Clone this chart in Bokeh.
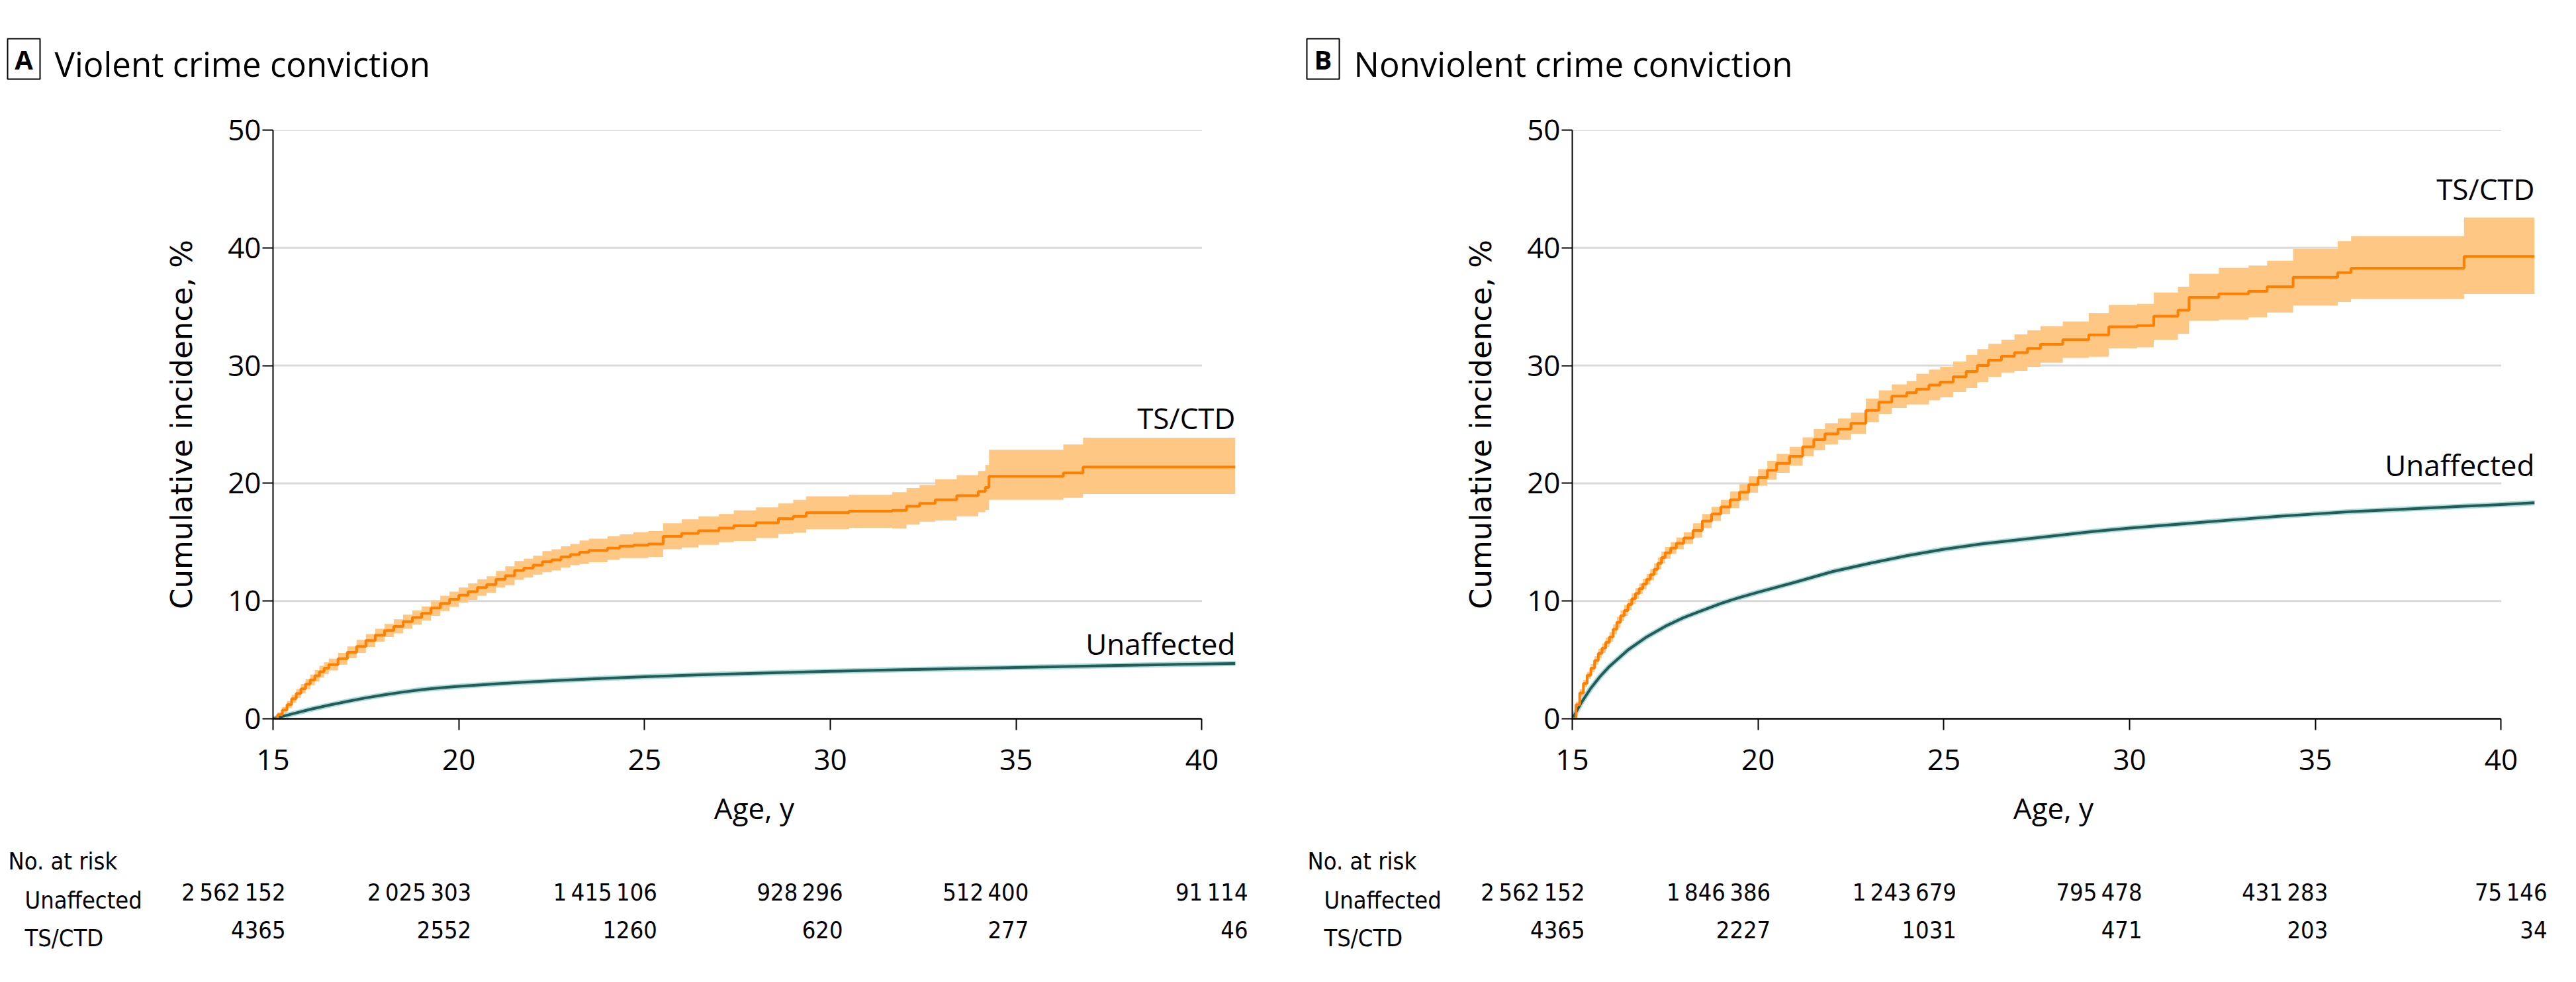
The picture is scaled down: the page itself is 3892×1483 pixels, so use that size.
from bokeh.plotting import figure
from bokeh.models import Range1d, FixedTicker, Label, LabelSet, ColumnDataSource
from bokeh.layouts import row, column
from bokeh.embed import file_html
from bokeh.resources import INLINE
from bokeh.core.properties import value

# ---------------- data ----------------
age_ticks = [15, 20, 25, 30, 35, 40]
pct_ticks = [0, 10, 20, 30, 40, 50]

# Panel A: violent crime, TS/CTD (step estimate with 95% CI)
ageA = [15.0, 15.125, 15.25, 15.375, 15.5, 15.625, 15.75, 15.875, 16.0, 16.125, 16.25, 16.375, 16.5, 16.75, 17.0,
        17.25, 17.5, 17.75, 18.0, 18.25, 18.5, 18.75, 19.0, 19.25, 19.5, 19.75, 20.0, 20.25, 20.5, 20.75,
        21.0, 21.25, 21.5, 21.75, 22.0, 22.25, 22.5, 22.75, 23.0, 23.25, 23.5, 24.0, 24.33, 24.7, 25.1,
        25.5, 26.0, 26.45, 27.0, 27.4, 28.0, 28.6, 29.0, 29.35, 30.5, 31.66, 32.05, 32.4, 32.82, 33.4,
        33.98, 34.17, 34.27, 36.27, 36.8, 40.9]
estA = [0.0, 0.35, 0.75, 1.2, 1.7, 2.15, 2.55, 2.95, 3.3, 3.65, 4.0, 4.3, 4.6, 5.1, 5.65,
        6.15, 6.65, 7.1, 7.5, 7.85, 8.25, 8.6, 8.95, 9.4, 9.8, 10.15, 10.5, 10.8, 11.15, 11.4,
        11.85, 12.15, 12.6, 12.8, 13.05, 13.35, 13.5, 13.75, 13.95, 14.15, 14.3, 14.5, 14.66, 14.75, 14.85,
        15.5, 15.75, 15.98, 16.2, 16.4, 16.65, 17.0, 17.2, 17.5, 17.63, 17.7, 18.05, 18.3, 18.6, 18.95,
        19.3, 19.65, 20.6, 20.88, 21.39, 21.39]
loA = [0.0, 0.15, 0.5, 0.9, 1.35, 1.77, 2.15, 2.52, 2.85, 3.17, 3.5, 3.8, 4.1, 4.6, 5.15,
       5.6, 6.1, 6.55, 6.95, 7.25, 7.65, 8.0, 8.35, 8.75, 9.15, 9.5, 9.85, 10.1, 10.45, 10.7,
       11.15, 11.35, 11.8, 12.0, 12.25, 12.45, 12.6, 12.85, 13.05, 13.15, 13.3, 13.5, 13.66, 13.65, 13.75,
       14.4, 14.55, 14.78, 15.0, 15.1, 15.35, 15.7, 15.8, 16.1, 16.23, 16.15, 16.5, 16.75, 16.85, 17.2,
       17.55, 17.75, 18.6, 18.77, 19.1, 19.1]
hiA = [0.0, 0.55, 1.0, 1.5, 2.05, 2.53, 2.95, 3.38, 3.75, 4.13, 4.5, 4.8, 5.1, 5.6, 6.15,
       6.7, 7.2, 7.65, 8.05, 8.45, 8.85, 9.2, 9.55, 10.05, 10.45, 10.8, 11.15, 11.5, 11.85, 12.1,
       12.55, 12.95, 13.4, 13.6, 13.85, 14.25, 14.4, 14.65, 14.85, 15.15, 15.3, 15.5, 15.66, 15.85, 15.95,
       16.6, 16.95, 17.18, 17.4, 17.7, 17.95, 18.3, 18.6, 18.9, 19.03, 19.25, 19.6, 19.85, 20.35, 20.7,
       21.05, 21.55, 22.85, 23.3, 23.88, 23.88]

# Panel A: unaffected
ageUA = [15, 15.5, 16, 16.5, 17, 17.5, 18, 18.5, 19, 19.5, 20, 21, 22, 23, 24, 25, 26, 27, 28, 29, 30,
         31, 32, 33, 34, 35, 36, 37, 38, 39, 40, 40.9]
estUA = [0, 0.4, 0.8, 1.15, 1.48, 1.78, 2.04, 2.27, 2.47, 2.63, 2.75, 2.97, 3.15, 3.3, 3.45, 3.57, 3.68,
         3.78, 3.87, 3.95, 4.03, 4.1, 4.17, 4.23, 4.3, 4.36, 4.42, 4.48, 4.54, 4.6, 4.66, 4.7]

# Panel B: nonviolent crime, TS/CTD
ageB = [15.0, 15.1, 15.2, 15.3, 15.4, 15.5, 15.6, 15.7, 15.8, 15.9, 16.0, 16.1, 16.2, 16.3, 16.4,
        16.5, 16.6, 16.7, 16.8, 16.9, 17.0, 17.1, 17.2, 17.3, 17.4, 17.5, 17.65, 17.8, 18.0,
        18.25, 18.5, 18.75, 19.0, 19.25, 19.5, 19.75, 20.0, 20.25, 20.5, 20.85, 21.2, 21.5, 21.8, 22.15,
        22.5, 22.9, 23.25, 23.6, 24.0, 24.26, 24.6, 24.9, 25.25, 25.6, 25.9, 26.2, 26.55, 26.9, 27.25,
        27.6, 28.2, 28.9, 29.44, 30.2, 30.65, 31.3, 31.6, 32.4, 33.2, 33.7, 34.4, 35.6, 35.96, 39.0, 40.9]
estB = [0.0, 1.2, 2.2, 3.0, 3.7, 4.3, 4.95, 5.55, 6.0, 6.5, 6.95, 7.6, 8.2, 8.75, 9.2,
        9.7, 10.2, 10.65, 11.05, 11.45, 11.85, 12.25, 12.7, 13.2, 13.7, 14.1, 14.5, 14.9, 15.35,
        16.0, 16.8, 17.4, 18.0, 18.6, 19.25, 19.9, 20.5, 21.1, 21.7, 22.3, 23.1, 23.7, 24.2, 24.6,
        25.1, 26.2, 26.9, 27.4, 27.7, 28.0, 28.35, 28.6, 29.05, 29.5, 30.0, 30.45, 30.8, 31.1, 31.45,
        31.8, 32.2, 32.6, 33.3, 33.4, 34.2, 34.7, 35.8, 36.1, 36.3, 36.7, 37.5, 37.9, 38.28, 39.27, 39.27]
loB = [0.0, 0.95, 1.9, 2.7, 3.4, 3.95, 4.6, 5.17, 5.6, 6.1, 6.55, 7.18, 7.75, 8.3, 8.75,
       9.25, 9.75, 10.2, 10.6, 11.0, 11.4, 11.77, 12.2, 12.7, 13.2, 13.6, 14.0, 14.4, 14.85,
       15.4, 16.2, 16.8, 17.4, 17.9, 18.55, 19.2, 19.8, 20.3, 20.9, 21.5, 22.3, 22.8, 23.3, 23.7,
       24.2, 25.2, 25.9, 26.4, 26.7, 26.7, 27.05, 27.3, 27.75, 28.1, 28.6, 29.05, 29.4, 29.55, 29.9,
       30.25, 30.65, 30.75, 31.45, 31.55, 32.2, 32.7, 33.8, 33.9, 34.1, 34.5, 35.1, 35.4, 35.66, 36.08, 36.08]
hiB = [0.0, 1.45, 2.5, 3.3, 4.0, 4.65, 5.3, 5.93, 6.4, 6.9, 7.35, 8.02, 8.65, 9.2, 9.65,
       10.15, 10.65, 11.1, 11.5, 11.9, 12.3, 12.73, 13.2, 13.7, 14.2, 14.6, 15.0, 15.4, 15.85,
       16.6, 17.4, 18.0, 18.6, 19.3, 19.95, 20.6, 21.2, 21.9, 22.5, 23.1, 23.9, 24.6, 25.1, 25.5,
       26.0, 27.2, 27.9, 28.4, 28.7, 29.3, 29.65, 29.9, 30.35, 30.9, 31.4, 31.85, 32.2, 32.65, 33.0,
       33.35, 33.75, 34.45, 35.15, 35.25, 36.2, 36.7, 37.8, 38.3, 38.5, 38.9, 39.9, 40.56, 41.0, 42.58, 42.58]

# Panel B: unaffected
ageUB = [15, 15.25, 15.5, 15.75, 16, 16.5, 17, 17.5, 18, 18.5, 19, 19.5, 20, 21, 22, 23, 24, 25, 26, 27,
         28, 29, 30, 31, 32, 33, 34, 35, 36, 37, 38, 39, 40, 40.9]
estUB = [0, 1.4, 2.6, 3.6, 4.45, 5.85, 6.95, 7.85, 8.6, 9.2, 9.8, 10.3, 10.75, 11.6, 12.5, 13.2, 13.85,
         14.4, 14.85, 15.2, 15.55, 15.9, 16.2, 16.45, 16.7, 16.95, 17.2, 17.4, 17.6, 17.75, 17.9, 18.05,
         18.2, 18.35]

# Number at risk
riskA_unaff = [2562152, 2025303, 1415106, 928296, 512400, 91114]
riskA_ts = [4365, 2552, 1260, 620, 277, 46]
riskB_unaff = [2562152, 1846386, 1243679, 795478, 431283, 75146]
riskB_ts = [4365, 2227, 1031, 471, 203, 34]

panels = [
    dict(letter="A", title="Violent crime conviction", age=ageA, est=estA, lo=loA, hi=hiA,
         ageU=ageUA, estU=estUA, risk_u=riskA_unaff, risk_t=riskA_ts,
         ts_lab_off=74, un_lab_off=30, width=1963, right=97),
    dict(letter="B", title="Nonviolent crime conviction", age=ageB, est=estB, lo=loB, hi=hiB,
         ageU=ageUB, estU=estUB, risk_u=riskB_unaff, risk_t=riskB_ts,
         ts_lab_off=102, un_lab_off=57, width=1913, right=47),
]

# ---------------- style ----------------
FONT = "Open Sans"
TFONT = "DejaVu Sans Condensed"   # number-at-risk table text
YLAB = "DejaVu Sans"
ORANGE = "#ff7f00"
ORANGE_BAND = "#fec884"
TEAL = "#245b59"
TEAL_HALO = "#a6dbd7"
GRID = "#d9d9d9"
FS = "44px"
TFS = "36px"
LEFT = 412          # frame left border
FRAME_W = 1454      # frame width
HEAD_H = 150
MAIN_H = 1112
TABLE_H = 205


def fmt(n):
    return format(n, ",").replace(",", "\u2009") if n >= 10000 else str(n)


def blank(width, height, x_range=None):
    f = figure(width=width, height=height, output_backend="svg", toolbar_location=None,
               x_axis_location=None, y_axis_location=None, min_border=0,
               x_range=x_range if x_range is not None else Range1d(0, width),
               y_range=Range1d(0, height))
    f.frame_align = False
    f.outline_line_color = None
    f.grid.visible = False
    return f


def make_panel(d):
    # ---- header: boxed letter + title
    h = blank(d["width"], HEAD_H)
    h.quad(left=11, right=60, bottom=31, top=92, fill_color=None, line_color="black", line_width=2)
    h.add_layout(Label(x=35.5, y=61.5, x_units="screen", y_units="screen", text=d["letter"],
                       text_font=FONT, text_font_size="40px", text_font_style="bold",
                       text_color="black", text_align="center", text_baseline="middle"))
    h.add_layout(Label(x=82, y=55, x_units="screen", y_units="screen", text=d["title"],
                       text_font=FONT, text_font_size="51px", text_color="black",
                       text_baseline="alphabetic"))

    # ---- main plot
    p = figure(width=d["width"], height=MAIN_H, output_backend="svg", toolbar_location=None,
               x_range=Range1d(15, d["age"][-1]), y_range=Range1d(0, 50),
               min_border_left=LEFT, min_border_right=d["right"], min_border_top=46,
               min_border_bottom=177)
    p.frame_align = False
    p.outline_line_color = None
    p.xgrid.visible = False
    p.ygrid.visible = False

    p.segment(x0=[age_ticks[0]] * 5, x1=[age_ticks[-1]] * 5, y0=pct_ticks[1:], y1=pct_ticks[1:],
              line_color=GRID, line_width=3)
    p.varea_step(x=d["age"], y1=d["lo"], y2=d["hi"], step_mode="after", fill_color=ORANGE_BAND)
    p.line(d["ageU"], d["estU"], line_color=TEAL_HALO, line_width=8, line_cap="round", line_join="round")
    p.line(d["ageU"], d["estU"], line_color=TEAL, line_width=4, line_join="round")
    p.step(d["age"], d["est"], mode="after", line_color=ORANGE, line_width=4)

    xa = p.xaxis[0]
    xa.ticker = FixedTicker(ticks=age_ticks)
    xa.bounds = (age_ticks[0], age_ticks[-1])
    xa.axis_line_width = 2.5
    xa.major_tick_line_width = 2
    xa.major_tick_out = 17
    xa.major_tick_in = 0
    xa.minor_tick_line_color = None
    xa.major_label_text_font = FONT
    xa.major_label_text_font_size = FS
    xa.major_label_text_color = "black"
    xa.major_label_standoff = 29
    xa.axis_label = "Age, y"
    xa.axis_label_text_font = FONT
    xa.axis_label_text_font_size = FS
    xa.axis_label_text_font_style = "normal"
    xa.axis_label_text_color = "black"
    xa.axis_label_standoff = 24

    ya = p.yaxis[0]
    ya.ticker = FixedTicker(ticks=pct_ticks)
    ya.bounds = (pct_ticks[0], pct_ticks[-1])
    ya.axis_line_width = 2
    ya.major_tick_line_width = 2
    ya.major_tick_out = 16
    ya.major_tick_in = 0
    ya.minor_tick_line_color = None
    ya.major_label_text_font = FONT
    ya.major_label_text_font_size = FS
    ya.major_label_text_color = "black"
    ya.major_label_standoff = 2
    ya.axis_label = "Cumulative incidence, %"
    ya.axis_label_text_font = YLAB
    ya.axis_label_text_font_size = "45px"
    ya.axis_label_text_font_style = "normal"
    ya.axis_label_text_color = "black"
    ya.axis_label_standoff = 40

    p.add_layout(Label(x=d["age"][-1], y=d["est"][-1], y_offset=d["ts_lab_off"], text="TS/CTD",
                       text_font=FONT, text_font_size=FS, text_color="black", text_align="right",
                       text_baseline="alphabetic"))
    p.add_layout(Label(x=d["ageU"][-1], y=d["estU"][-1], y_offset=d["un_lab_off"], text="Unaffected",
                       text_font=FONT, text_font_size=FS, text_color="black", text_align="right",
                       text_baseline="alphabetic"))

    # ---- number at risk table (x aligned with the main plot's age scale)
    ppy = FRAME_W / (d["age"][-1] - 15)
    xr = Range1d(15 - LEFT / ppy, d["age"][-1] + d["right"] / ppy)
    t = blank(d["width"], TABLE_H, x_range=xr)
    col_x = age_ticks[:-1] + [d["age"][-1]]   # last column sits at end of follow-up
    t.add_layout(Label(x=12, y=167, x_units="screen", y_units="screen", text="No. at risk",
                       text_font=TFONT, text_font_size=TFS, text_color="black", text_baseline="alphabetic"))
    for row_name, vals, sy in (("Unaffected", d["risk_u"], 108), ("TS/CTD", d["risk_t"], 51)):
        t.add_layout(Label(x=37, y=sy, x_units="screen", y_units="screen", text=row_name,
                           text_font=TFONT, text_font_size=TFS, text_color="black",
                           text_baseline="alphabetic"))
        src = ColumnDataSource(dict(x=col_x, txt=[fmt(v) for v in vals]))
        t.add_layout(LabelSet(x="x", y=sy, y_units="screen", text="txt", source=src,
                              x_offset=19, text_font=value(TFONT), text_font_size=value(TFS),
                              text_color="black", text_align="right", text_baseline="alphabetic"))
    return column(h, p, t, spacing=0)


layout = row(*[make_panel(d) for d in panels], spacing=0)
open("out.html", "w").write(file_html(layout, INLINE))
